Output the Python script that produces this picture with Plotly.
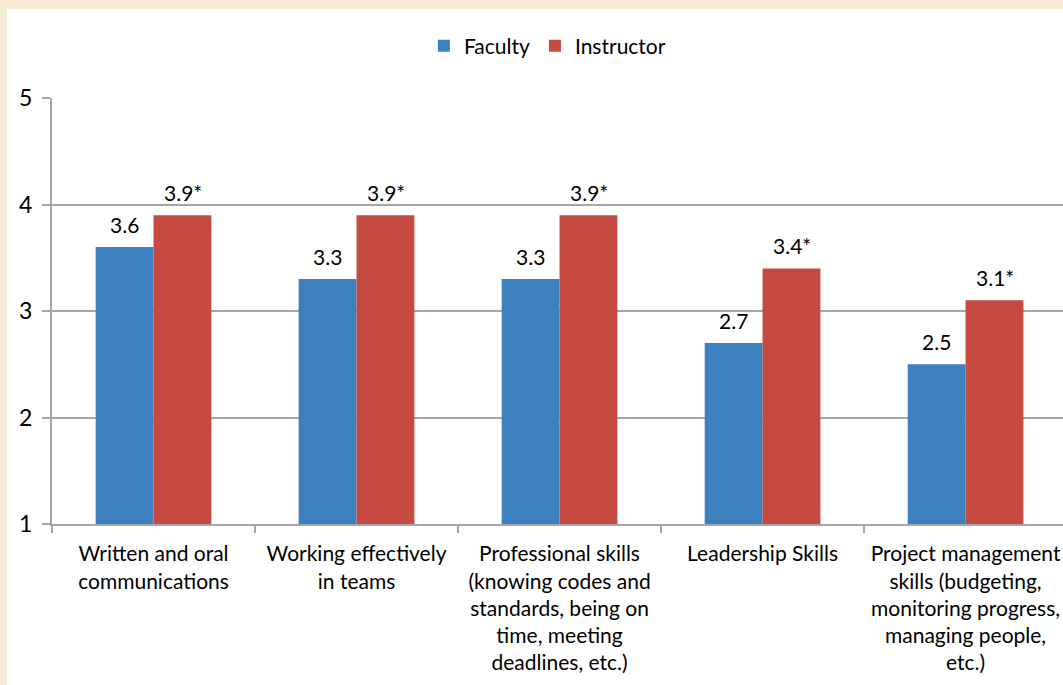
import plotly.graph_objects as go

# Survey categories and mean ratings
categories = [
    "Written and oral<br>communications",
    "Working effectively<br>in teams",
    "Professional skills<br>(knowing codes and<br>standards, being on<br>time, meeting<br>deadlines, etc.)",
    "Leadership Skills",
    "Project management<br>skills (budgeting,<br>monitoring progress,<br>managing people,<br>etc.)",
]
faculty = [3.6, 3.3, 3.3, 2.7, 2.5]
instructor = [3.9, 3.9, 3.9, 3.4, 3.1]
faculty_text = ["3.6", "3.3", "3.3", "2.7", "2.5"]
instructor_text = ["3.9*", "3.9*", "3.9*", "3.4*", "3.1*"]
y_ticks = [1, 2, 3, 4, 5]

FONT = "Lato, 'Open Sans', sans-serif"
BASE = 1

fig = go.Figure()
fig.add_trace(go.Bar(
    x=categories, y=[v - BASE for v in faculty], base=BASE,
    name="Faculty", marker=dict(color="#3d80bf", line=dict(width=0)),
))
fig.add_trace(go.Bar(
    x=categories, y=[v - BASE for v in instructor], base=BASE,
    name="Instructor", marker=dict(color="#c54a42", line=dict(width=0)),
))

# value labels sit a little above each bar
for cat, v, t in zip(categories, faculty, faculty_text):
    fig.add_annotation(x=cat, y=v, text=t, showarrow=False, xshift=-29,
                       yanchor="bottom", yshift=8, font=dict(size=21))
for cat, v, t in zip(categories, instructor, instructor_text):
    fig.add_annotation(x=cat, y=v, text=t, showarrow=False, xshift=29,
                       yanchor="bottom", yshift=8, font=dict(size=21))

# plot area in pixels: left 52, right 1063, top 98, bottom 524
pw, ph = 1011, 426
fig.add_shape(type="rect", xref="paper", yref="paper", layer="below",
              x0=(7 - 52) / pw, x1=1.01, y0=(524 - 690) / ph, y1=1 + (98 - 9) / ph,
              fillcolor="white", line=dict(width=0))

fig.update_layout(
    width=1063, height=685,
    margin=dict(l=52, r=0, t=98, b=161),
    paper_bgcolor="#f7ebd5", plot_bgcolor="white",
    font=dict(family=FONT, size=21, color="black"),
    bargap=0.43, bargroupgap=0,
    showlegend=True,
    legend=dict(orientation="h", x=0.49, xanchor="center", y=1 + (98 - 46) / ph,
                yanchor="middle", font=dict(size=21), itemwidth=30,
                bgcolor="rgba(0,0,0,0)"),
    xaxis=dict(range=[-0.5, 4.48], showline=True, linecolor="#a6a6a6", linewidth=2,
               ticks="outside", tickson="boundaries", ticklen=7, tickcolor="#a6a6a6",
               tickwidth=2, tickfont=dict(size=21), showgrid=False,
               ticklabelstandoff=10),
    yaxis=dict(range=[1, 5], tickvals=y_ticks, showline=True, linecolor="#a6a6a6",
               linewidth=2, ticks="outside", ticklen=8, tickcolor="#a6a6a6", tickwidth=2,
               gridcolor="#a6a6a6", gridwidth=2, tickfont=dict(size=23), zeroline=False,
               ticklabelstandoff=5),
)

fig.write_html("out.html", config={"displayModeBar": False},
               post_script="document.body.style.margin='0';")
